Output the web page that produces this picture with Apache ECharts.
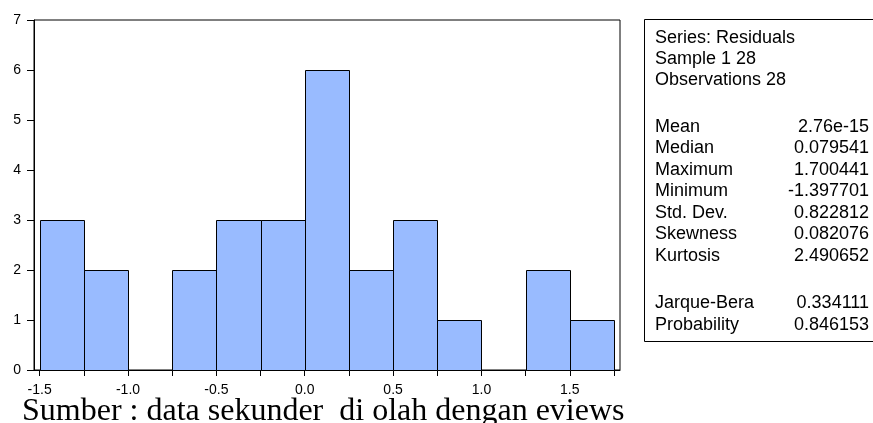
<!DOCTYPE html>
<html>
<head>
<meta charset="utf-8">
<script src="https://cdn.jsdelivr.net/npm/echarts@6/dist/echarts.min.js"></script>
<style>html,body{margin:0;padding:0;background:#fff;}#c{width:873px;height:423px;}</style>
</head>
<body>
<div id="c"></div>
<script>
// Histogram bins (width 0.25) and counts
const binStarts = [-1.5, -1.25, -1.0, -0.75, -0.5, -0.25, 0.0, 0.25, 0.5, 0.75, 1.0, 1.25, 1.5];
const binWidth = 0.25;
const counts = [3, 2, 0, 2, 3, 3, 6, 2, 3, 1, 0, 2, 1];
const xTickLabels = [-1.5, -1.0, -0.5, 0.0, 0.5, 1.0, 1.5];
const xMinorTicks = [-1.25, -0.75, -0.25, 0.25, 0.75, 1.25, 1.75];
const headerLines = ['Series: Residuals', 'Sample 1 28', 'Observations 28'];
const statNames = ['Mean', 'Median', 'Maximum', 'Minimum', 'Std. Dev.', 'Skewness', 'Kurtosis', 'Jarque-Bera', 'Probability'];
const statValues = ['2.76e-15', '0.079541', '1.700441', '-1.397701', '0.822812', '0.082076', '2.490652', '0.334111', '0.846153'];
const caption = 'Sumber : data sekunder  di olah dengan eviews';

const data = binStarts.map((s, i) => [s, s + binWidth, counts[i]]);

const chart = echarts.init(document.getElementById('c'), null, {renderer: 'canvas'});

const graphics = [];
// stats box
graphics.push({type: 'rect', shape: {x: 644.5, y: 19.5, width: 260, height: 322}, style: {fill: '#fff', stroke: '#000', lineWidth: 1}, z: 10});
const headerY = [38, 59, 80];
headerLines.forEach((t, i) => {
  graphics.push({type: 'text', x: 655, y: headerY[i], style: {text: t, fill: '#000', font: '18px Arial', textVerticalAlign: 'middle'}, z: 11});
});
const statY = [127, 148.5, 170, 191.5, 213, 234.5, 256, 303.5, 325];
statNames.forEach((t, i) => {
  graphics.push({type: 'text', x: 655, y: statY[i], style: {text: t, fill: '#000', font: '18px Arial', textVerticalAlign: 'middle'}, z: 11});
  graphics.push({type: 'text', x: 869, y: statY[i], style: {text: statValues[i], fill: '#000', font: '18px Arial', textAlign: 'right', textVerticalAlign: 'middle'}, z: 11});
});
graphics.push({type: 'text', x: 22, y: 428, style: {text: caption, fill: '#000', font: '32px "Liberation Serif"', textVerticalAlign: 'bottom'}, z: 11});

chart.setOption({
  animation: false,
  grid: {left: 34, right: 253, top: 20, bottom: 53, show: true, borderColor: '#000', borderWidth: 1},
  xAxis: {
    type: 'value', min: -1.532, max: 1.784,
    axisLine: {show: true, onZero: false, lineStyle: {color: '#000'}},
    axisTick: {show: true, length: 6, customValues: xTickLabels.concat(xMinorTicks), lineStyle: {color: '#000'}},
    axisLabel: {show: true, customValues: xTickLabels, margin: 13, color: '#000', fontSize: 14, fontFamily: 'Arial', formatter: v => v.toFixed(1)},
    splitLine: {show: false}
  },
  yAxis: {
    type: 'value', min: 0, max: 7, interval: 1,
    axisLine: {show: true, onZero: false, lineStyle: {color: '#000'}},
    axisTick: {show: true, length: 7, lineStyle: {color: '#000'}},
    axisLabel: {color: '#000', fontSize: 14, fontFamily: 'Arial', margin: 13},
    splitLine: {show: false}
  },
  series: [{
    type: 'custom', encode: {x: [0, 1], y: 2}, data: data,
    renderItem: function (params, api) {
      const c = api.value(2); if (!c) return null;
      const p0 = api.coord([api.value(0), c]); const p1 = api.coord([api.value(1), 0]);
      return {
        type: 'rect',
        shape: {x: Math.round(p0[0]) + 0.5, y: Math.round(p0[1]) + 0.5, width: Math.round(p1[0]) - Math.round(p0[0]), height: Math.round(p1[1]) - Math.round(p0[1])},
        style: {fill: '#99BBFF', stroke: '#000', lineWidth: 1}
      };
    }
  }],
  graphic: graphics
});
</script>
</body>
</html>
